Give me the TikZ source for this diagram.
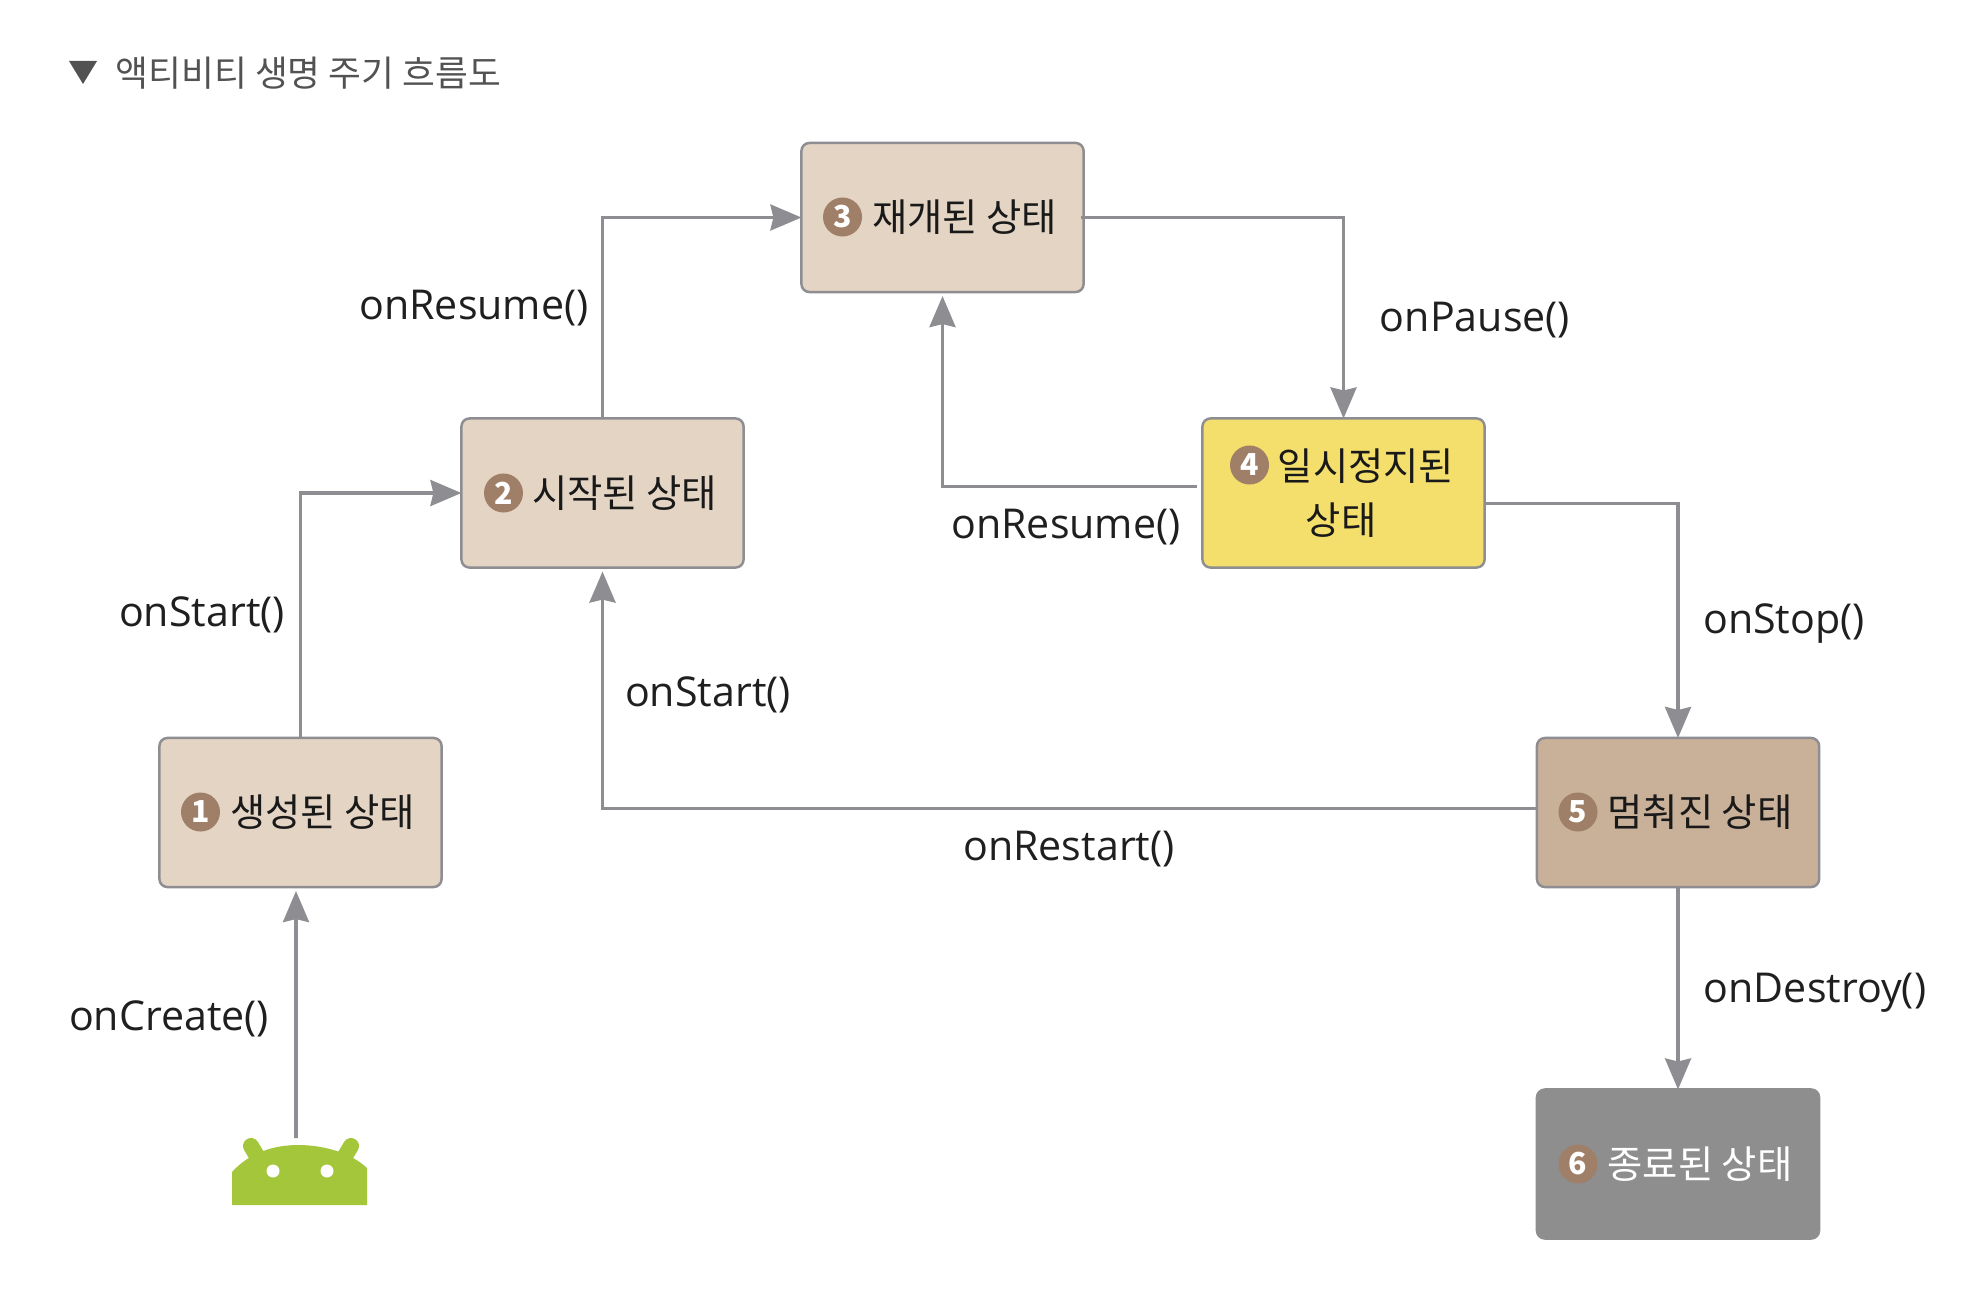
\documentclass[tikz,border=0pt]{standalone}
\usepackage{fontspec}
\setmainfont{Noto Sans CJK KR}
\newfontfamily\callfont{Open Sans}
\usetikzlibrary{arrows.meta}
\definecolor{boxtan}{HTML}{E3D4C4}
\definecolor{boxyellow}{HTML}{F4DF6C}
\definecolor{boxbrown}{HTML}{C9B199}
\definecolor{boxgray}{HTML}{8E8E8E}
\definecolor{linegray}{HTML}{8E8E92}
\definecolor{badgebrown}{HTML}{A07F68}
\definecolor{droidgreen}{HTML}{A4C63A}
\begin{document}
\begin{tikzpicture}[x=0.01cm,y=-0.01cm,
	state/.style={rectangle, rounded corners=0.08cm, minimum width=2.82cm, minimum height=1.49cm, inner sep=0pt, outer sep=0pt, draw=linegray, line width=0.7pt, text=black!90, align=center, font=\fontsize{10.9pt}{15.4pt}\selectfont},
	badge/.style={circle, inner sep=0pt, minimum size=0.39cm, fill=badgebrown, text=white, font=\fontsize{8.6pt}{9pt}\selectfont\bfseries},
	call/.style={inner sep=0pt, text=black!88, font=\callfont\fontsize{11.7pt}{13pt}\selectfont},
	flow/.style={linegray, line width=1pt, -{Stealth[length=0.31cm, width=0.26cm, inset=0.03cm]}},
	>=stealth]

	%Title
	\fill[black!68] (69,61) -- (97,61) -- (83,84) -- cycle;
	\node[anchor=west, inner sep=0pt, text=black!68, font=\fontsize{10.15pt}{12pt}\selectfont] (title) at (115,73) {액티비티 생명 주기 흐름도};

	%Nodes
	\node[state, fill=boxtan]	(created)	at (300.5,812.5)	{\hspace*{0.44cm}생성된 상태};
	\node[state, fill=boxtan]	(started)	at (602.5,493)	{\hspace*{0.44cm}시작된 상태};
	\node[state, fill=boxtan]	(resumed)	at (942.5,217.5)	{\hspace*{0.44cm}재개된 상태};
	\node[state, fill=boxyellow]	(paused)	at (1343.5,493)	{\hspace*{0.45cm}일시정지된\\상태\hspace*{0.05cm}};
	\node[state, fill=boxbrown]	(stopped)	at (1678,812.5)	{\hspace*{0.44cm}멈춰진 상태};
	\node[state, fill=boxgray, draw=boxgray, text=white]	(destroyed)	at (1678,1164)	{\hspace*{0.44cm}종료된 상태};

	%Badges
	\node[badge]	(n1)	at (200.5,812)	{1};
	\node[badge]	(n2)	at (503.5,493)	{2};
	\node[badge]	(n3)	at (842.5,217)	{3};
	\node[badge]	(n4)	at (1249.5,465)	{4};
	\node[badge]	(n5)	at (1578,812)	{5};
	\node[badge]	(n6)	at (1578,1164)	{6};

	%Android
	\fill[droidgreen] (232,1205) -- (232,1172) .. controls (250,1152) and (275,1145) .. (298,1145) .. controls (322,1145) and (350,1152) .. (367,1168) -- (367,1205) -- cycle;
	\draw[droidgreen, line width=0.16cm, line cap=round] (251,1146) -- (263,1166);
	\draw[droidgreen, line width=0.16cm, line cap=round] (351,1146) -- (339,1166);
	\fill[white] (273,1171) circle (6.5) (327,1171) circle (6.5);
	\coordinate (droid) at (296,1138);

	%Lines
	\draw[flow, shorten >=0.04cm] (droid) -- ([xshift=-0.045cm]created.south);
	\draw[flow] (created.north) |- (started.west);
	\draw[flow] (started.north) |- (resumed.west);
	\draw[flow] ([xshift=-0.03cm]resumed.east) -| (paused.north);
	\draw[flow, shorten >=0.04cm] ([xshift=-0.05cm,yshift=0.065cm]paused.west) -| (resumed.south);
	\draw[flow] ([yshift=-0.105cm]paused.east) -| (stopped.north);
	\draw[flow, shorten >=0.04cm] ([yshift=0.04cm]stopped.west) -| (started.south);
	\draw[flow] (stopped.south) -- (destroyed.north);

	%Labels
	\node[call]	(l1)	at (169,1018.5)	{onCreate()};
	\node[call]	(l2)	at (202,614.5)	{onStart()};
	\node[call]	(l3)	at (474,308.5)	{onResume()};
	\node[call]	(l4)	at (1475,320.5)	{onPause()};
	\node[call]	(l5)	at (1066,527.5)	{onResume()};
	\node[call]	(l6)	at (708,694.5)	{onStart()};
	\node[call]	(l7)	at (1784,623.5)	{onStop()};
	\node[call]	(l8)	at (1069,849.5)	{onRestart()};
	\node[call]	(l9)	at (1815,992.5)	{onDestroy()};

	\useasboundingbox (0,0) rectangle (1986,1294);
\end{tikzpicture}
\end{document}
